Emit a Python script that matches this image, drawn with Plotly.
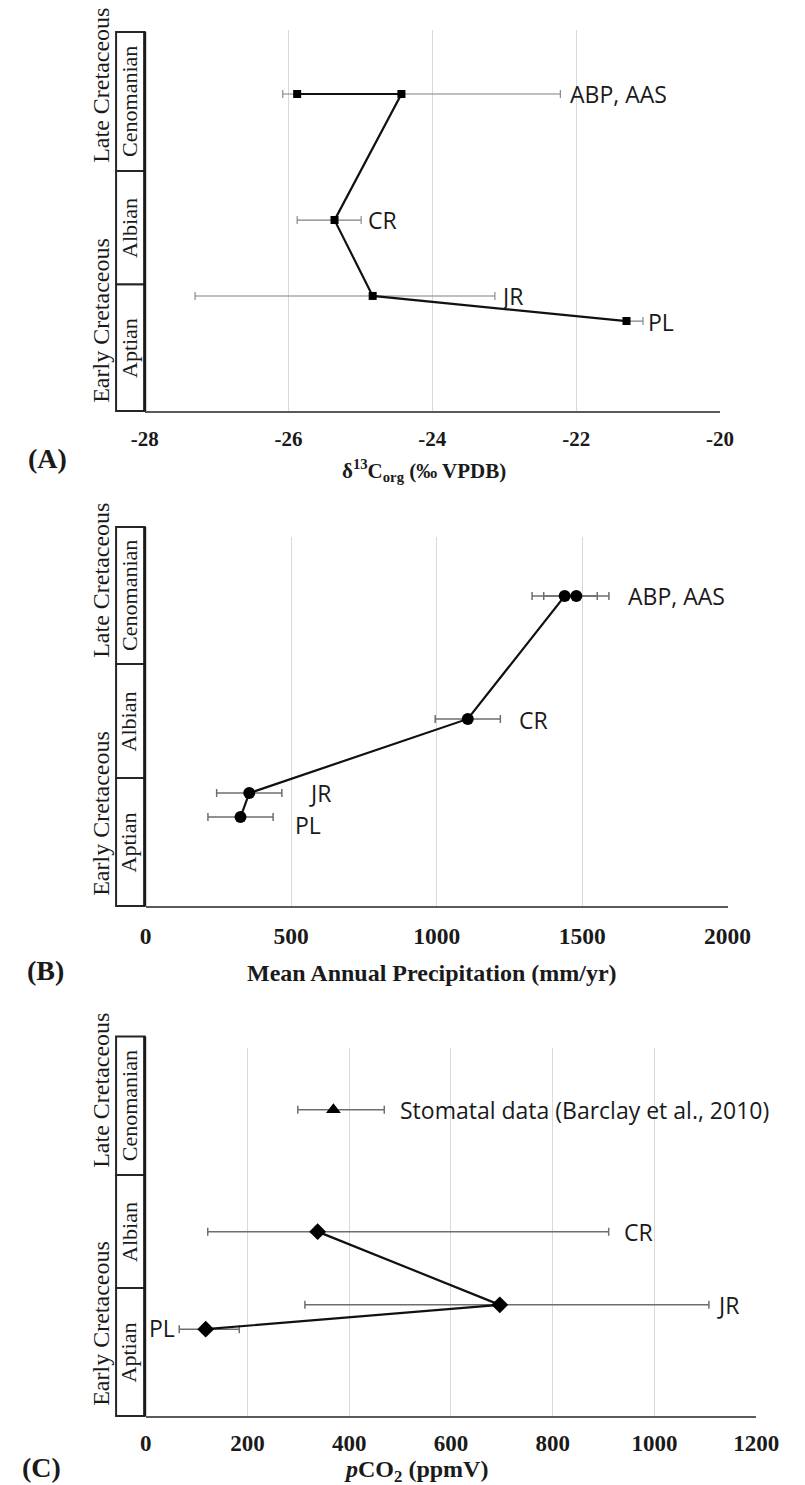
import plotly.graph_objects as go

W, H = 805, 1485


def fx(p):
    return p / W


def fy(p):
    return 1 - p / H


# ---------------- data ----------------
stages = ["Aptian", "Albian", "Cenomanian"]
eras = ["Early Cretaceous", "Late Cretaceous"]

# Panel A: d13C org (per mil VPDB); level = relative stratigraphic position (0-100)
a_sites = ["PL", "JR", "CR", "AAS", "ABP"]
a_x = [-21.30, -24.83, -25.36, -24.43, -25.88]
a_level = [23.6, 30.2, 50.1, 83.2, 83.2]
a_err_plus = [0.23, 1.70, 0.37, 2.21, 0.0]
a_err_minus = [0.0, 2.47, 0.52, 0.0, 0.20]
a_ticks = [-28, -26, -24, -22, -20]
a_tick_labels = ["-28", "-26", "-24", "-22", "-20"]

# Panel B: mean annual precipitation (mm/yr)
b_sites = ["PL", "JR", "CR", "ABP", "AAS"]
b_x = [326, 356, 1107, 1440, 1480]
b_level = [24.1, 30.6, 50.7, 84.0, 84.0]
b_err = [112, 112, 112, 112, 112]
b_ticks = [0, 500, 1000, 1500, 2000]
b_tick_labels = ["0", "500", "1000", "1500", "2000"]

# Panel C: pCO2 (ppmV)
c_sites = ["PL", "JR", "CR"]
c_x = [118, 696, 338]
c_level = [23.6, 30.2, 50.1]
c_err_plus = [66, 411, 572]
c_err_minus = [52, 383, 216]
stomatal_x = [369]
stomatal_level = [83.2]
stomatal_err_plus = [100]
stomatal_err_minus = [70]
c_ticks = [0, 200, 400, 600, 800, 1000, 1200]
c_tick_labels = ["0", "200", "400", "600", "800", "1000", "1200"]

# ---------------- layout geometry (pixels) ----------------
panels = [
    dict(key="", x0=137, x1=740, ytop=30, ybot=411, rng=[-28, -20],
         ticks=a_ticks, ticklabels=a_tick_labels, standoff=8, tsize=21,
         col=[0, 33.3, 63.0, 99.5], late_c=85, early_c=320,
         title="δ<sup>13</sup>C<sub>org</sub> (‰ VPDB)", title_xy=(430, 470), title_size=21,
         letter="(A)", letter_xy=(35, 458)),
    dict(key="2", x0=138, x1=748, ytop=537, ybot=906, rng=[0, 2000],
         ticks=b_ticks, ticklabels=b_tick_labels, standoff=8, tsize=23.5,
         col=[0, 34.7, 65.6, 102.7], late_c=580, early_c=813,
         title="Mean Annual Precipitation (mm/yr)", title_xy=(438, 973), title_size=24,
         letter="(B)", letter_xy=(33, 970)),
    dict(key="3", x0=138, x1=778, ytop=1048, ybot=1416, rng=[0, 1200],
         ticks=c_ticks, ticklabels=c_tick_labels, standoff=5, tsize=23,
         col=[0, 34.8, 65.5, 103.1], late_c=1090, early_c=1323,
         title="<i>p</i>CO<sub>2</sub> (ppmV)", title_xy=(421, 1471), title_size=24,
         letter="(C)", letter_xy=(29, 1467)),
]

COL_L, COL_R = 107, 137
INK = "#1a1a1a"
ERR = "#6e6e6e"
SERIF = "Liberation Serif"
SANS = "Open Sans"

fig = go.Figure()


def add_series(key, xs, ys, plus, minus, symbol, size, line=True, errw=1.2, errc=ERR):
    xa = "x" + key
    ya = "y" + key
    # error bars underneath
    fig.add_trace(go.Scatter(
        x=xs, y=ys, xaxis=xa, yaxis=ya, mode="markers",
        marker=dict(size=1, color="rgba(0,0,0,0)"),
        error_x=dict(type="data", symmetric=False, array=plus, arrayminus=minus,
                     color=errc, thickness=errw, width=4),
        showlegend=False, hoverinfo="skip"))
    fig.add_trace(go.Scatter(
        x=xs, y=ys, xaxis=xa, yaxis=ya,
        mode="lines+markers" if line else "markers",
        line=dict(color="#111111", width=2.2),
        marker=dict(symbol=symbol, size=size, color="#000000"),
        showlegend=False))


add_series("", a_x, a_level, a_err_plus, a_err_minus, "square", 8, errw=1.1, errc="#808080")
add_series("2", b_x, b_level, b_err, b_err, "circle", 12, errw=1.5)
add_series("3", c_x, c_level, c_err_plus, c_err_minus, "diamond", 13, errw=1.5)
add_series("3", stomatal_x, stomatal_level, stomatal_err_plus, stomatal_err_minus,
           "triangle-up", 13, line=False, errw=1.5)

shapes = []
annotations = []


def lbl(key, x, y, text, anchor="left"):
    annotations.append(dict(
        xref="x" + key, yref="y" + key, x=x, y=y, text=text, showarrow=False,
        xanchor=anchor, yanchor="middle",
        font=dict(family=SANS, size=23, color=INK)))


# data labels
lbl("", -22.12, 83.2, "ABP, AAS")
lbl("", -24.92, 50.1, "CR")
lbl("", -23.08, 30.2, "JR")
lbl("", -21.03, 23.4, "PL")
lbl("2", 1650, 84.0, "ABP, AAS")
lbl("2", 1277, 50.5, "CR")
lbl("2", 556, 30.6, "JR")
lbl("2", 507, 22.0, "PL")
lbl("3", 495, 83.2, "Stomatal data (Barclay et al., 2010)")
lbl("3", 936, 50.1, "CR")
lbl("3", 1118, 30.2, "JR")
lbl("3", 62, 23.8, "PL", anchor="right")

for p in panels:
    k = p["key"]
    ax_name = "xaxis" + k
    ay_name = "yaxis" + k
    fig.layout[ax_name] = dict(
        domain=[fx(p["x0"]), fx(p["x1"])], range=p["rng"], anchor="y" + k,
        tickvals=p["ticks"], ticktext=p["ticklabels"], ticks="",
        showgrid=True, gridcolor="#d9d9d9", gridwidth=1, zeroline=False,
        showline=True, linecolor="#5a5a5a", linewidth=2,
        tickfont=dict(family=SERIF, size=p["tsize"], color=INK, weight="bold"),
        ticklabelstandoff=p["standoff"], fixedrange=True)
    fig.layout[ay_name] = dict(
        domain=[fy(p["ybot"]), fy(p["ytop"])], range=[0, 100], anchor="x" + k,
        visible=False, fixedrange=True)

    def lv(v, p=p):
        return p["ybot"] - v / 100 * (p["ybot"] - p["ytop"])

    bounds = [lv(v) for v in p["col"]]
    # stage boxes
    for i, name in enumerate(stages):
        yb, yt = bounds[i], bounds[i + 1]
        shapes.append(dict(type="rect", xref="paper", yref="paper",
                           x0=fx(COL_L), x1=fx(COL_R), y0=fy(yb), y1=fy(yt),
                           line=dict(color="#262626", width=2), fillcolor="white",
                           layer="above"))
        annotations.append(dict(
            xref="paper", yref="paper", x=fx((COL_L + COL_R) / 2 - 1),
            y=fy((yb + yt) / 2), text=name, textangle=-90, showarrow=False,
            xanchor="center", yanchor="middle",
            font=dict(family=SERIF, size=22, color=INK)))
    # thicker right border of column
    shapes.append(dict(type="line", xref="paper", yref="paper",
                       x0=fx(COL_R), x1=fx(COL_R), y0=fy(bounds[0]), y1=fy(bounds[-1]),
                       line=dict(color="#1a1a1a", width=3), layer="above"))
    # era labels
    for name, cy in zip(eras, [p["early_c"], p["late_c"]]):
        annotations.append(dict(
            xref="paper", yref="paper", x=fx(91), y=fy(cy), text=name,
            textangle=-90, showarrow=False, xanchor="center", yanchor="middle",
            font=dict(family=SERIF, size=24, color=INK)))
    # axis title
    tx, ty = p["title_xy"]
    annotations.append(dict(
        xref="paper", yref="paper", x=fx(tx), y=fy(ty), text=p["title"],
        showarrow=False, xanchor="center", yanchor="middle",
        font=dict(family=SERIF, size=p["title_size"], color=INK, weight="bold")))
    # panel letter
    lx, ly = p["letter_xy"]
    annotations.append(dict(
        xref="paper", yref="paper", x=fx(lx), y=fy(ly), text=p["letter"],
        showarrow=False, xanchor="center", yanchor="middle",
        font=dict(family=SERIF, size=28, color=INK, weight="bold")))

fig.update_layout(
    width=W, height=H, autosize=False,
    margin=dict(l=0, r=0, t=0, b=0, pad=0),
    paper_bgcolor="white", plot_bgcolor="white",
    shapes=shapes, annotations=annotations, showlegend=False)

fig.write_html("out.html", config={"displayModeBar": False, "responsive": False},
               default_width="805px", default_height="1485px")
